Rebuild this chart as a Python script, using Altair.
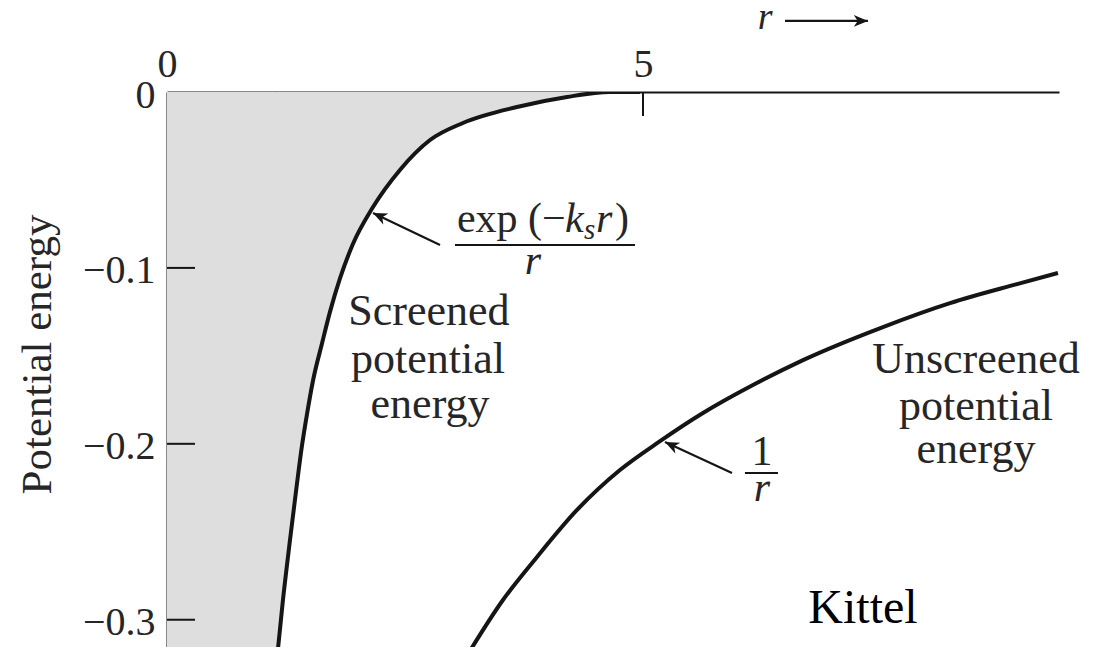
import altair as alt
import pandas as pd

# ---------------- data ----------------
screened_r = [1.155, 1.218, 1.292, 1.366, 1.418, 1.471, 1.534, 1.628, 1.712, 1.817,
              1.954, 2.164, 2.447, 2.763, 3.109, 3.676, 4.202, 4.653, 4.968]
screened_v = [-0.3223, -0.2888, -0.2547, -0.2223, -0.2010, -0.1830, -0.1640, -0.1430, -0.1250, -0.1060,
              -0.0863, -0.0654, -0.0443, -0.0273, -0.0176, -0.0085, -0.0028, 0.0, 0.0]

unscreened_r = [3.130, 3.529, 3.887, 4.307, 4.758, 5.179, 5.630, 6.155, 6.681, 7.521, 8.225, 8.929, 9.359]
unscreened_v = [-0.3223, -0.2888, -0.2643, -0.2376, -0.2149, -0.1985, -0.1825, -0.1666, -0.1524,
                -0.1336, -0.1200, -0.1092, -0.1029]

y_tick_values = [0, -0.1, -0.2, -0.3]
x_tick_values = [0, 5]
inner_y_ticks = [-0.1, -0.2, -0.3]
inner_x_ticks = [5]

# annotation texts (data coordinates)
body_text = ["Screened", "potential", "energy", "Unscreened", "potential", "energy"]
body_r = [2.752, 2.742, 2.763, 8.498, 8.498, 8.498]
body_v = [-0.1325, -0.1597, -0.1853, -0.1597, -0.1865, -0.2109]

# arrows: tail (r, v) -> head (r2, v2), head angle in degrees
arrow_r = [2.868, 5.935, 6.492]
arrow_v = [-0.0870, -0.2166, 0.0404]
arrow_r2 = [2.164, 5.231, 7.363]
arrow_v2 = [-0.0688, -0.1990, 0.0404]
arrow_angle = [205, 205, 0]

# fraction bars
bar_r = [3.025, 6.071]
bar_r2 = [4.916, 6.418]
bar_v = [-0.0870, -0.2166]

X_DOMAIN = [0, 9.37]
Y_DOMAIN = [-0.3155, 0]

FONT = "Liberation Serif"
INK = "#151515"
TEXT = "#262626"
SHADE = "#dedede"

xs = alt.Scale(domain=X_DOMAIN, nice=False, zero=False)
ys = alt.Scale(domain=Y_DOMAIN, nice=False, zero=False)

x_axis = alt.Axis(
    orient="top", values=x_tick_values, ticks=False, labelFont=FONT,
    labelFontSize=40, labelColor=TEXT, labelPadding=8, domainColor=INK,
    domainWidth=2, grid=False, labelOverlap=False, labelFlush=False, format="d",
    title=None)
y_axis = alt.Axis(
    orient="left", values=y_tick_values, ticks=False,
    labelExpr="datum.value == 0 ? '0' : format(datum.value, '.1f')",
    labelFont=FONT, labelFontSize=40, labelColor=TEXT, labelPadding=12,
    labelOffset=3, domainColor=INK, domainWidth=2, grid=False,
    labelOverlap=False, labelFlush=False,
    title="Potential energy", titleFont=FONT, titleFontSize=43,
    titleFontWeight="normal", titleColor=TEXT, titleX=-117, titleY=262,
    titleAngle=270, titleAlign="center", titleBaseline="alphabetic")


def X(field):
    return alt.X(field, type="quantitative", scale=xs, axis=x_axis)


def Y(field):
    return alt.Y(field, type="quantitative", scale=ys, axis=y_axis)


screened = pd.DataFrame({"r": screened_r, "v": screened_v})
unscreened = pd.DataFrame({"r": unscreened_r, "v": unscreened_v})

# shaded region between the axis and the screened curve
fill_area = alt.Chart(screened).mark_area(
    color=SHADE, interpolate="monotone", clip=True
).encode(x=X("r"), y=Y("v"), y2=alt.datum(0))

strip = pd.DataFrame({"r0": [0], "r1": [screened_r[0]], "v0": [Y_DOMAIN[0]], "v1": [0]})
fill_strip = alt.Chart(strip).mark_rect(color=SHADE, clip=True).encode(
    x=X("r0"), x2="r1", y=Y("v0"), y2="v1"
)

# inward ticks
yt = alt.Chart(pd.DataFrame({"v": inner_y_ticks})).mark_rule(color=INK, strokeWidth=2).encode(
    y=Y("v"), x=alt.value(0), x2=alt.value(28)
)
xt = alt.Chart(pd.DataFrame({"r": inner_x_ticks})).mark_rule(color=INK, strokeWidth=2).encode(
    x=X("r"), y=alt.value(0), y2=alt.value(24)
)

line_s = alt.Chart(screened).mark_line(
    color=INK, strokeWidth=4, interpolate="monotone", clip=True
).encode(x=X("r"), y=Y("v"))
line_u = alt.Chart(unscreened).mark_line(
    color=INK, strokeWidth=4, interpolate="monotone", clip=True
).encode(x=X("r"), y=Y("v"))

body = alt.Chart(pd.DataFrame({"t": body_text, "r": body_r, "v": body_v})).mark_text(
    font=FONT, fontSize=44, align="center", baseline="alphabetic", color=TEXT
).encode(x=X("r"), y=Y("v"), text="t:N")

arrows = pd.DataFrame({"r": arrow_r, "v": arrow_v, "r2": arrow_r2, "v2": arrow_v2, "a": arrow_angle})
shafts = alt.Chart(arrows).mark_rule(color=INK, strokeWidth=2.2).encode(
    x=X("r"), y=Y("v"), x2="r2", y2="v2"
)
heads = alt.Chart(arrows).mark_point(
    shape="M 0 0 L -1 -0.42 L -0.72 0 L -1 0.42 Z", filled=True, size=800,
    color=INK, opacity=1, strokeWidth=0
).encode(x=X("r2"), y=Y("v2"), angle=alt.Angle("a:Q", scale=None))

bars = alt.Chart(pd.DataFrame({"r": bar_r, "r2": bar_r2, "v": bar_v})).mark_rule(
    color=INK, strokeWidth=2
).encode(x=X("r"), x2="r2", y=Y("v"))


def label(txt, r, v, size=42, align="left", style="normal", dx=0, dy=0, color=TEXT, font=FONT):
    df = pd.DataFrame({"t": [txt], "r": [r], "v": [v]})
    return alt.Chart(df).mark_text(
        font=font, fontSize=size, align=align, baseline="alphabetic",
        fontStyle=style, dx=dx, dy=dy, color=color
    ).encode(x=X("r"), y=Y("v"), text="t:N")


num_r, num_v = 3.046, -0.0796
texts = [
    label("exp (\u2212", num_r, num_v),
    label("k", num_r, num_v, style="italic", dx=108),
    label("s", num_r, num_v, size=29, style="italic", dx=127, dy=7),
    label("r", num_r, num_v, style="italic", dx=139),
    label(")", num_r, num_v, dx=158),
    label("r", 3.845, -0.1035, align="center", style="italic"),
    label("1", 6.25, -0.2120, align="center"),
    label("r", 6.25, -0.2325, align="center", style="italic"),
    label("r", 6.282, 0.0358, size=38, align="center", style="italic"),
    label("Kittel", 7.311, -0.3019, size=48, align="center", color="#000000"),
]

chart = alt.layer(
    fill_area, fill_strip, yt, xt, line_s, line_u, body, shafts, heads, bars, *texts
).properties(
    width=892, height=555,
    padding={"left": 159, "top": 84, "right": 30, "bottom": 0},
    autosize=alt.AutoSizeParams(type="none"),
    background="white",
).configure_view(stroke=None)

chart.save("out.html", embed_options={"renderer": "svg", "actions": False})
